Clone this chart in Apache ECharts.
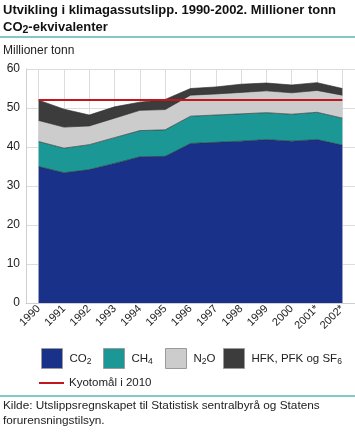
<!DOCTYPE html>
<html>
<head>
<meta charset="utf-8">
<script src="https://cdn.jsdelivr.net/npm/echarts@6/dist/echarts.min.js"></script>
<style>
html,body{margin:0;padding:0;background:#fff;}
#c{width:355px;height:432px;}
</style>
</head>
<body>
<div id="c"></div>
<script>
const years = ['1990','1991','1992','1993','1994','1995','1996','1997','1998','1999','2000','2001*','2002*'];
const co2 = [35.0, 33.4, 34.2, 35.8, 37.5, 37.6, 40.9, 41.2, 41.5, 41.9, 41.5, 41.9, 40.5];
const ch4 = [6.4, 6.3, 6.4, 6.6, 6.7, 6.8, 7.0, 7.0, 7.0, 6.9, 6.9, 7.0, 6.9];
const n2o = [5.4, 5.4, 4.8, 5.0, 5.2, 5.2, 5.4, 5.4, 5.5, 5.6, 5.5, 5.6, 5.9];
const hfk = [5.2, 4.6, 2.8, 2.9, 2.1, 2.6, 1.7, 1.8, 2.1, 2.0, 2.0, 2.0, 1.7];
const kyoto = 52.0;
const yTicks = [0, 10, 20, 30, 40, 50, 60];

const FONT = '"Liberation Sans", "DejaVu Sans", sans-serif';
const TXT = '#222';
const colors = { co2: '#1a318a', ch4: '#1b9896', n2o: '#cccccc', hfk: '#3c3c3c', kyoto: '#c0161c' };

const chart = echarts.init(document.getElementById('c'), null, { renderer: 'canvas' });

const subRich = {
  b: { fontSize: 11.5, lineHeight: 16, fontFamily: FONT, color: TXT },
  s: { fontSize: 8.5, lineHeight: 10, fontFamily: FONT, color: TXT, verticalAlign: 'bottom' }
};
function areaSeries(name, data, color) {
  return {
    name: name, type: 'line', stack: 'tot', data: data, symbol: 'none',
    lineStyle: { color: '#2a2a2a', width: 0.8, opacity: 0.8 },
    areaStyle: { color: color, opacity: 1 },
    itemStyle: { color: color },
    emphasis: { disabled: true }, z: 2
  };
}
function legendBox(name, left, fmt, color) {
  return {
    left: left, top: 348, padding: 0, itemWidth: 21, itemHeight: 20, itemGap: 0,
    selectedMode: false,
    data: [{ name: name, icon: 'rect', itemStyle: { color: color, borderColor: '#9a9a9a', borderWidth: 1 } }],
    formatter: function () { return fmt; },
    textStyle: { fontSize: 11.5, fontFamily: FONT, color: TXT, padding: [0, 0, 0, 2], rich: subRich }
  };
}

chart.setOption({
  animation: false,
  title: [
    {
      left: 3, top: 2, padding: 0,
      text: 'Utvikling i klimagassutslipp. 1990-2002. Millioner tonn\n{b|CO}{s|2}{b|-ekvivalenter}',
      textStyle: {
        fontSize: 13, fontWeight: 'bold', fontFamily: FONT, color: '#111', lineHeight: 17,
        rich: {
          b: { fontSize: 13, fontWeight: 'bold', fontFamily: FONT, color: '#111', lineHeight: 17 },
          s: { fontSize: 10.5, fontWeight: 'bold', fontFamily: FONT, color: '#111', lineHeight: 11, verticalAlign: 'bottom' }
        }
      }
    },
    {
      left: 3, top: 45, padding: 0, text: 'Millioner tonn',
      textStyle: { fontSize: 12, fontWeight: 'normal', fontFamily: FONT, color: TXT }
    },
    {
      left: 3, top: 398, padding: 0,
      text: 'Kilde: Utslippsregnskapet til Statistisk sentralbyrå og Statens\nforurensningstilsyn.',
      textStyle: { fontSize: 11.8, fontWeight: 'normal', fontFamily: FONT, color: TXT, lineHeight: 15 }
    }
  ],
  graphic: [
    { type: 'rect', left: 0, top: 36, shape: { width: 355, height: 2 }, style: { fill: '#83c9c8' }, silent: true },
    { type: 'rect', left: 0, top: 395, shape: { width: 355, height: 2 }, style: { fill: '#83c9c8' }, silent: true }
  ],
  legend: [
    legendBox('CO2', 41, '{b|CO}{s|2}', colors.co2),
    legendBox('CH4', 103, '{b|CH}{s|4}', colors.ch4),
    legendBox('N2O', 165, '{b|N}{s|2}{b|O}', colors.n2o),
    legendBox('HFK, PFK og SF6', 223, '{b|HFK, PFK og SF}{s|6}', colors.hfk),
    {
      left: 39, top: 377, padding: 0, itemWidth: 25, itemHeight: 2, selectedMode: false,
      data: [{ name: 'Kyotomål i 2010', icon: 'rect', itemStyle: { color: colors.kyoto } }],
      textStyle: { fontSize: 11.5, fontFamily: FONT, color: TXT }
    }
  ],
  grid: { left: 26, right: 0, top: 69, height: 234, containLabel: false },
  xAxis: {
    type: 'category', data: years, boundaryGap: true,
    axisLine: { show: true, lineStyle: { color: '#cfcfcf', width: 1 } },
    axisTick: { show: false, alignWithLabel: true },
    splitLine: { show: true, alignWithLabel: true, lineStyle: { color: '#dcdcdc', width: 1 } },
    axisLabel: { rotate: 45, fontSize: 11, fontFamily: FONT, color: TXT, margin: 4, interval: 0 }
  },
  yAxis: {
    type: 'value', min: yTicks[0], max: yTicks[yTicks.length - 1], interval: 10,
    axisLine: { show: true, lineStyle: { color: '#cfcfcf', width: 1 } },
    axisTick: { show: false },
    splitLine: { show: true, lineStyle: { color: '#dcdcdc', width: 1 } },
    axisLabel: { fontSize: 12, fontFamily: FONT, color: TXT, margin: 6 }
  },
  series: [
    areaSeries('CO2', co2, colors.co2),
    areaSeries('CH4', ch4, colors.ch4),
    areaSeries('N2O', n2o, colors.n2o),
    areaSeries('HFK, PFK og SF6', hfk, colors.hfk),
    {
      name: 'Kyotomål i 2010', type: 'line', data: [], symbol: 'none',
      itemStyle: { color: colors.kyoto }, lineStyle: { color: colors.kyoto },
      markLine: {
        silent: true, symbol: 'none', label: { show: false },
        lineStyle: { color: colors.kyoto, width: 2, type: 'solid' },
        data: [[{ xAxis: years[0], yAxis: kyoto }, { xAxis: years[years.length - 1], yAxis: kyoto }]]
      },
      z: 5
    }
  ]
});
</script>
</body>
</html>
